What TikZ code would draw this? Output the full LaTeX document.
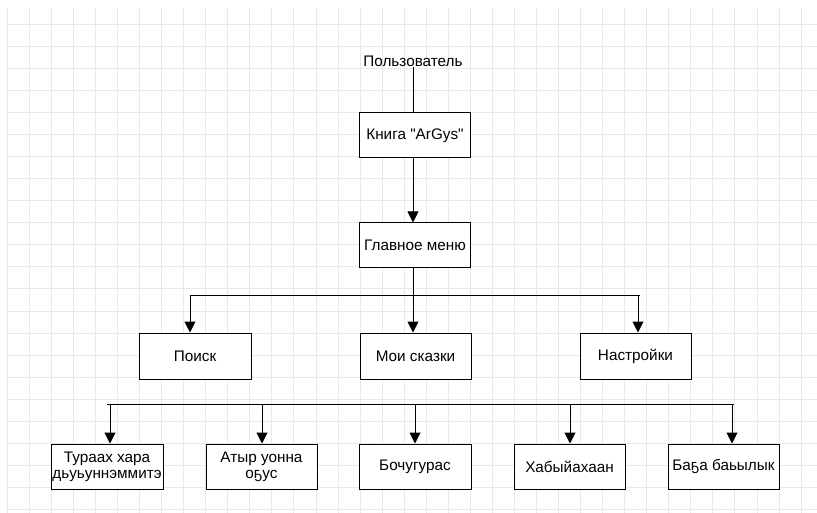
\documentclass[tikz,border=0pt]{standalone}
\usepackage{fontspec}
\setmainfont{Liberation Sans}[Ligatures=TeXOff]
\usetikzlibrary{arrows.meta}
\definecolor{gridc}{HTML}{E9E9E9}
\tikzset{
  box/.style={draw=black, line width=1pt, fill=white, minimum width=111pt, minimum height=45pt, inner sep=1pt, align=center, font=\fontsize{15.3}{17}\selectfont},
  lbl/.style={inner sep=0pt, font=\fontsize{15.3}{17}\selectfont},
  conn/.style={draw=black, line width=1pt},
  arr/.style={conn, -{Triangle[length=11pt, width=11pt]}}
}
\begin{document}
\begin{tikzpicture}[x=1pt, y=-1pt]
\useasboundingbox (0,0) rectangle (817,513);
% grid
\begin{scope}
\clip (7,8.5) rectangle (817,513);
\foreach \k in {0,...,36} \draw[gridc, line width=1pt] (7.3+22.05*\k,0) -- (7.3+22.05*\k,513);
\foreach \k in {1,...,23} \draw[gridc, line width=1pt] (0,2.3+22.05*\k) -- (817,2.3+22.05*\k);
\end{scope}

% nodes
\node[lbl, anchor=base] (user) at (413,67) {Пользователь};
\node[box] (kniga) at (415,135.5) {Книга "ArGys"};
\node[box] (glav) at (415,245.5) {Главное меню};
\node[box, minimum width=112pt, minimum height=46pt] (poisk) at (195,356) {Поиск};
\node[box, minimum height=46pt] (moi) at (415.5,356) {Мои сказки};
\node[box, minimum height=46pt] (nastr) at (635.5,356) {Настройки};
\node[box, minimum width=112pt] (b1) at (107,466.5) {Тураах хара\\[-1pt]дьуьуннэммитэ};
\node[box] (b2) at (261.5,466.5) {Атыр уонна\\[-1pt]оҕус};
\node[box, minimum width=112pt] (b3) at (415,466.5) {Бочугурас};
\node[box] (b4) at (569.5,466.5) {Хабыйахаан};
\node[box] (b5) at (723.5,466.5) {Баҕа баьылык};

% coordinates of buses
\coordinate (busL) at (190,296);
\coordinate (busR) at (639.5,296);
\coordinate (busA) at (638,296);
\coordinate (bbL) at (107,404);
\coordinate (bbR) at (734,404);
\coordinate (d1) at (110,404);
\coordinate (d2) at (262,404);
\coordinate (d3) at (415,404);
\coordinate (d4) at (570,404);
\coordinate (d5) at (732,404);

% connectors
\draw[conn] (user.base) -- (user.base |- kniga.north);
\draw[arr] (kniga.south -| user.base) -- (glav.north -| user.base);
\draw[arr] (glav.south -| user.base) -- (moi.north -| user.base);
\draw[conn] (busL) -- (busR);
\draw[arr] (busL) -- (busL |- poisk.north);
\draw[arr] (busA) -- (busA |- nastr.north);
\draw[conn] (bbL) -- (bbR);
\draw[arr] (d1) -- (d1 |- b1.north);
\draw[arr] (d2) -- (d2 |- b2.north);
\draw[arr] (d3) -- (d3 |- b3.north);
\draw[arr] (d4) -- (d4 |- b4.north);
\draw[arr] (d5) -- (d5 |- b5.north);
\end{tikzpicture}
\end{document}
